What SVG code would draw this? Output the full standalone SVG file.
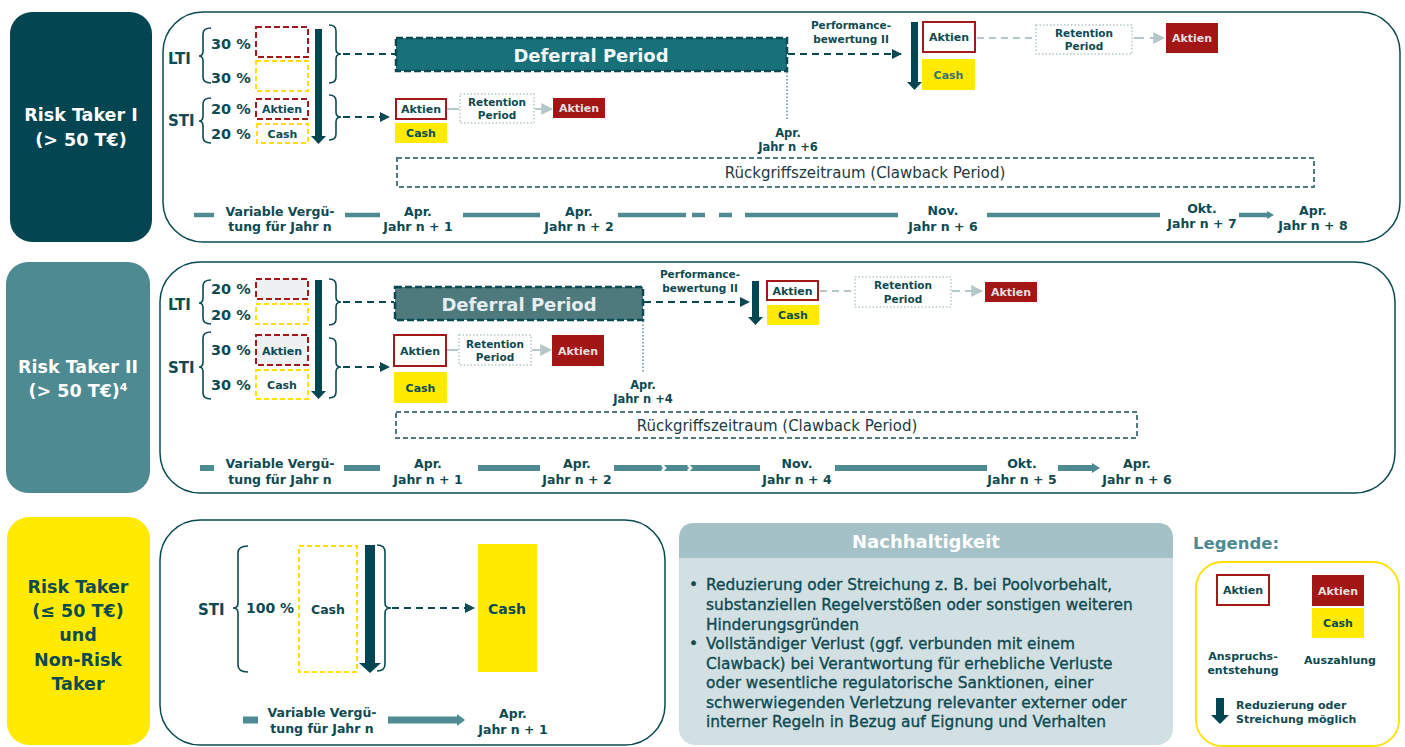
<svg xmlns="http://www.w3.org/2000/svg" width="1405" height="747" viewBox="0 0 1405 747">
<style>
text{font-family:"DejaVu Sans","Open Sans",sans-serif;font-weight:700;fill:#0d4a52}
.c{text-anchor:middle}
.w{fill:#ffffff}
.s10{font-size:10.5px}.s11{font-size:11px}.s12{font-size:11.5px}.s13{font-size:12.5px}.s14{font-size:14px}.s15{font-size:14.5px}.s16{font-size:15px}
.lab{font-size:17.5px}
.tl{font-size:12.5px}
.lg{fill:#e6dede}
.reg{font-weight:400;font-size:15px;fill:#1c3a3f}
.bul{font-weight:400;font-size:15.4px;fill:#0d4a52;stroke:#0d4a52;stroke-width:0.35}
.panel{fill:#fff;stroke:#0b4a52;stroke-width:1.5}
.rd{fill:none;stroke:#a31919;stroke-width:2;stroke-dasharray:6 3}
.rdg{fill:#eef0f1;stroke:#a31919;stroke-width:2;stroke-dasharray:6 3}
.yd{fill:none;stroke:#ffe000;stroke-width:2;stroke-dasharray:5 3}
.ro{fill:#fff;stroke:#a31919;stroke-width:2}
.rf{fill:#a31616}
.yf{fill:#ffea00}
.ret{fill:#fff;stroke:#b6c7ca;stroke-width:1.5;stroke-dasharray:1.5 2}
.brace{fill:none;stroke:#0b4a52;stroke-width:1.6}
.dk{fill:#034550}
.dash{fill:none;stroke:#0b4a52;stroke-width:2;stroke-dasharray:7 5}
.dot{fill:none;stroke:#5d8d93;stroke-width:1.5;stroke-dasharray:1.5 2}
.gl{fill:none;stroke:#b6c7ca;stroke-width:2}
.gld{fill:none;stroke:#b6c7ca;stroke-width:2;stroke-dasharray:7 5}
.tline{fill:none;stroke:#4e8a91}
.claw{fill:none;stroke:#4e7a80;stroke-width:2;stroke-dasharray:5 3}
</style>
<defs>
<marker id="ah" viewBox="0 0 10 10" refX="9" refY="5" markerWidth="10" markerHeight="12" markerUnits="userSpaceOnUse" orient="auto"><path d="M0,0 L10,5 L0,10 z" fill="#0b4a52"/></marker>
<marker id="ahg" viewBox="0 0 10 10" refX="9" refY="5" markerWidth="12" markerHeight="14" markerUnits="userSpaceOnUse" orient="auto"><path d="M0,0 L10,5 L0,10 z" fill="#b6c7ca"/></marker>
</defs>

<!-- Left category labels -->
<g id="rt1-label">
<rect x="10" y="12" width="142" height="230" rx="22" fill="#034550"/>
<text class="c w lab" x="81" y="121">Risk Taker I</text>
<text class="c w lab" x="81" y="146">(&gt; 50 T€)</text>
</g>
<g id="rt2-label">
<rect x="6" y="262" width="144" height="231" rx="22" fill="#4e8a91"/>
<text class="c w lab" x="78" y="373">Risk Taker II</text>
<text class="c w lab" x="78" y="397">(&gt; 50 T€)<tspan font-size="11px" dy="-6">4</tspan></text>
</g>
<g id="rt3-label">
<rect x="7" y="517" width="143" height="228" rx="22" fill="#ffea00"/>
<text class="c lab" x="78" y="593">Risk Taker</text>
<text class="c lab" x="78" y="617">(≤ 50 T€)</text>
<text class="c lab" x="78" y="641">und</text>
<text class="c lab" x="78" y="666">Non-Risk</text>
<text class="c lab" x="78" y="690">Taker</text>
</g>

<!-- Panels -->
<g id="panel1"><rect class="panel" x="163" y="12" width="1237" height="230" rx="40"/></g>
<g id="panel2"><rect class="panel" x="160" y="262" width="1235" height="231" rx="40"/></g>
<g id="panel3"><rect class="panel" x="160" y="520" width="505" height="225" rx="40"/></g>

<!-- ROW 1 -->
<g id="r1-split">
<text class="s16" x="168" y="64">LTI</text>
<text class="s16" x="168" y="126">STI</text>
<path class="brace" d="M211,28 Q203,28 203,34 L203,51 Q203,56 199,56 Q203,56 203,61 L203,77 Q203,83 211,83"/>
<path class="brace" d="M211,98 Q203,98 203,104 L203,116 Q203,121 199,121 Q203,121 203,126 L203,137 Q203,143 211,143"/>
<text class="s15" x="211" y="48.5">30 %</text>
<text class="s15" x="211" y="82.5">30 %</text>
<text class="s15" x="211" y="114">20 %</text>
<text class="s15" x="211" y="139">20 %</text>
<rect class="rd" x="256" y="27" width="52" height="30"/>
<rect class="yd" x="256" y="61" width="52" height="30"/>
<rect class="rd" x="256" y="99" width="52" height="20"/>
<text class="c s11" x="282" y="113">Aktien</text>
<rect class="yd" x="257" y="124" width="51" height="19"/>
<text class="c s11" x="282.5" y="137.5">Cash</text>
<rect class="dk" x="315" y="29" width="7" height="107"/>
<polygon class="dk" points="311,136 326,136 318.5,144"/>
<path class="brace" d="M329,25 Q336,25 336,31 L336,49 Q336,54 341,54 Q336,54 336,59 L336,77 Q336,83 329,83"/>
<path class="brace" d="M329,95 Q336,95 336,101 L336,112 Q336,117 341,117 Q336,117 336,122 L336,134 Q336,140 329,140"/>
</g>
<g id="r1-deferral">
<rect x="396" y="38" width="391" height="33" fill="#17707a" stroke="#0b4a52" stroke-width="2.5" stroke-dasharray="7 3"/>
<text class="c" x="591" y="61.5" font-size="18px" style="fill:#f2f6f6">Deferral Period</text>
</g>
<g id="r1-sti-pay">
<rect class="ro" x="396" y="99" width="50" height="20"/>
<text class="c s11" x="421" y="113">Aktien</text>
<rect class="yf" x="395" y="123" width="52" height="20"/>
<text class="c s11" x="421" y="137">Cash</text>
<rect class="ret" x="460" y="94" width="74" height="29"/>
<text class="c s10" x="497" y="106">Retention</text>
<text class="c s10" x="497" y="119">Period</text>
<rect class="rf" x="553" y="98" width="52" height="20"/>
<text class="c s11 lg" x="579" y="112">Aktien</text>
</g>
<g id="r1-apr6">
<text class="c s12" x="788" y="137">Apr.</text>
<text class="c s12" x="788" y="151">Jahr n +6</text>
</g>
<g id="r1-perf">
<text class="c s10" x="851" y="29">Performance-</text>
<text class="c s10" x="851" y="43">bewertung II</text>
<rect class="dk" x="911" y="22" width="7" height="60"/>
<polygon class="dk" points="907,82 922,82 914.5,90"/>
<rect class="ro" x="923" y="22" width="52" height="30"/>
<text class="c s11" x="949" y="41">Aktien</text>
<rect class="yf" x="922" y="59" width="53" height="31"/>
<text class="c s11" x="948.5" y="78.5" style="fill:#3d6f75">Cash</text>
<rect class="ret" x="1036" y="25" width="96" height="29"/>
<text class="c s10" x="1084" y="37">Retention</text>
<text class="c s10" x="1084" y="50">Period</text>
<rect class="rf" x="1166" y="23" width="52" height="30"/>
<text class="c s11 lg" x="1192" y="42">Aktien</text>
</g>
<g id="r1-clawback">
<rect class="claw" x="397" y="158" width="917" height="29"/>
<text class="c reg" x="865" y="178">Rückgriffszeitraum (Clawback Period)</text>
</g>
<g id="r1-timeline">
<g class="tline" stroke-width="4.5">
<line x1="194" y1="215" x2="214" y2="215"/>
<line x1="345" y1="215" x2="380" y2="215"/>
<line x1="463" y1="215" x2="540" y2="215"/>
<line x1="618" y1="215" x2="686" y2="215"/>
<line x1="692" y1="215" x2="705" y2="215"/>
<line x1="719" y1="215" x2="732" y2="215"/>
<line x1="745" y1="215" x2="898" y2="215"/>
<line x1="987" y1="215" x2="1160" y2="215"/>
<line x1="1239" y1="215" x2="1268" y2="215"/>
</g>
<polygon points="1267,211 1274,215 1267,219" fill="#4e8a91"/>
<text class="c tl" x="280" y="215.5">Variable Vergü-</text>
<text class="c tl" x="280" y="231">tung für Jahr n</text>
<text class="c tl" x="418" y="215.5">Apr.</text>
<text class="c tl" x="418" y="231">Jahr n + 1</text>
<text class="c tl" x="579" y="215.5">Apr.</text>
<text class="c tl" x="579" y="231">Jahr n + 2</text>
<text class="c tl" x="943" y="215">Nov.</text>
<text class="c tl" x="943" y="231">Jahr n + 6</text>
<text class="c tl" x="1202" y="213">Okt.</text>
<text class="c tl" x="1202" y="228">Jahr n + 7</text>
<text class="c tl" x="1313" y="215">Apr.</text>
<text class="c tl" x="1313" y="230">Jahr n + 8</text>
</g>

<!-- ROW 2 -->
<g id="r2-split">
<text class="s16" x="168" y="310">LTI</text>
<text class="s16" x="168" y="373">STI</text>
<path class="brace" d="M211,280 Q203,280 203,286 L203,298 Q203,303 199,303 Q203,303 203,308 L203,318 Q203,324 211,324"/>
<path class="brace" d="M211,332 Q203,332 203,338 L203,362 Q203,367 199,367 Q203,367 203,372 L203,393 Q203,399 211,399"/>
<text class="s15" x="211" y="294">20 %</text>
<text class="s15" x="211" y="320">20 %</text>
<text class="s15" x="211" y="355">30 %</text>
<text class="s15" x="211" y="390">30 %</text>
<rect class="rdg" x="256" y="279" width="52" height="20"/>
<rect class="yd" x="256" y="304" width="52" height="20"/>
<rect class="rdg" x="256" y="335" width="52" height="30"/>
<text class="c s11" x="282" y="354.5">Aktien</text>
<rect class="yd" x="256" y="370" width="52" height="29"/>
<text class="c s11" x="282" y="389">Cash</text>
<rect class="dk" x="315" y="280" width="7" height="111"/>
<polygon class="dk" points="311,391 326,391 318.5,399"/>
<path class="brace" d="M329,279 Q336,279 336,285 L336,297 Q336,302 341,302 Q336,302 336,307 L336,319 Q336,325 329,325"/>
<path class="brace" d="M329,338 Q336,338 336,344 L336,362 Q336,367 341,367 Q336,367 336,372 L336,392 Q336,398 329,398"/>
</g>
<g id="r2-deferral">
<rect x="395" y="287" width="248" height="33" fill="#4e7a7e" stroke="#0b4a52" stroke-width="2.5" stroke-dasharray="7 3"/>
<text class="c" x="519" y="310.5" font-size="18px" style="fill:#e6eced">Deferral Period</text>
</g>
<g id="r2-sti-pay">
<rect class="ro" x="394" y="335" width="52" height="31"/>
<text class="c s11" x="420" y="354.5">Aktien</text>
<rect class="yf" x="394" y="372" width="53" height="31"/>
<text class="c s11" x="420.5" y="391.5">Cash</text>
<rect class="ret" x="459" y="335" width="72" height="30"/>
<text class="c s10" x="495" y="347.5">Retention</text>
<text class="c s10" x="495" y="361">Period</text>
<rect class="rf" x="552" y="335" width="52" height="31"/>
<text class="c s11 lg" x="578" y="354.5">Aktien</text>
</g>
<g id="r2-apr4">
<text class="c s12" x="643" y="389">Apr.</text>
<text class="c s12" x="643" y="403">Jahr n +4</text>
</g>
<g id="r2-perf">
<text class="c s10" x="700" y="278">Performance-</text>
<text class="c s10" x="700" y="292">bewertung II</text>
<rect class="dk" x="752" y="281" width="7" height="36"/>
<polygon class="dk" points="748,317 763,317 755.5,325"/>
<rect class="ro" x="767" y="281" width="51" height="19"/>
<text class="c s11" x="792.5" y="294.5">Aktien</text>
<rect class="yf" x="767" y="305" width="52" height="20"/>
<text class="c s11" x="793" y="319">Cash</text>
<rect class="ret" x="855" y="277" width="96" height="30"/>
<text class="c s10" x="903" y="289">Retention</text>
<text class="c s10" x="903" y="303">Period</text>
<rect class="rf" x="985" y="282" width="52" height="20"/>
<text class="c s11 lg" x="1011" y="296">Aktien</text>
</g>
<g id="r2-clawback">
<rect class="claw" x="396" y="412" width="741" height="26"/>
<text class="c reg" x="777" y="430.5">Rückgriffszeitraum (Clawback Period)</text>
</g>
<g id="r2-timeline">
<g class="tline" stroke-width="6">
<line x1="200" y1="468" x2="214" y2="468"/>
<line x1="344" y1="468" x2="380" y2="468"/>
<line x1="478" y1="468" x2="540" y2="468"/>
<line x1="614" y1="468" x2="760" y2="468"/>
<line x1="835" y1="468" x2="987" y2="468"/>
<line x1="1058" y1="468" x2="1093" y2="468"/>
</g>
<path d="M662,465 L665,468 L662,471 M688,465 L691,468 L688,471" fill="none" stroke="#fff" stroke-width="2.5"/>
<polygon points="1092,463 1100,468 1092,473" fill="#4e8a91"/>
<text class="c tl" x="280" y="468">Variable Vergü-</text>
<text class="c tl" x="280" y="484">tung für Jahr n</text>
<text class="c tl" x="428" y="468">Apr.</text>
<text class="c tl" x="428" y="484">Jahr  n + 1</text>
<text class="c tl" x="577" y="468">Apr.</text>
<text class="c tl" x="577" y="484">Jahr n + 2</text>
<text class="c tl" x="797" y="468">Nov.</text>
<text class="c tl" x="797" y="484">Jahr n + 4</text>
<text class="c tl" x="1022" y="468">Okt.</text>
<text class="c tl" x="1022" y="484">Jahr n + 5</text>
<text class="c tl" x="1137" y="468">Apr.</text>
<text class="c tl" x="1137" y="484">Jahr n + 6</text>
</g>

<!-- ROW 3 -->
<g id="r3-split">
<text class="s16" x="198" y="615">STI</text>
<path class="brace" d="M248,546 Q238,546 238,553 L238,603 Q238,608 233,608 Q238,608 238,613 L238,665 Q238,672 248,672"/>
<text class="s14" x="246" y="613">100 %</text>
<rect class="yd" x="299" y="546" width="58" height="126"/>
<text class="c s13" x="328" y="614">Cash</text>
<rect class="dk" x="365" y="545" width="10" height="118"/>
<polygon class="dk" points="359,663 381,663 370,673"/>
<path class="brace" d="M377,545 Q385,545 385,552 L385,603 Q385,608 391,608 Q385,608 385,613 L385,664 Q385,671 377,671"/>
</g>
<g id="r3-cash">
<rect class="yf" x="478" y="544" width="59" height="128"/>
<text class="c s14" x="507" y="614">Cash</text>
</g>
<g id="r3-timeline">
<line class="tline" stroke-width="7" x1="243" y1="720" x2="258" y2="720"/>
<line class="tline" stroke-width="7" x1="388" y1="720" x2="458" y2="720"/>
<polygon points="457,714 465,720 457,726" fill="#4e8a91"/>
<text class="c tl" x="322" y="717">Variable Vergü-</text>
<text class="c tl" x="322" y="733">tung für Jahr n</text>
<text class="c tl" x="513" y="718">Apr.</text>
<text class="c tl" x="513" y="734">Jahr n + 1</text>
</g>

<!-- Nachhaltigkeit -->
<g id="nachhaltigkeit">
<rect x="679" y="523" width="494" height="222" rx="16" fill="#d3e0e3"/>
<path d="M695,523 H1157 Q1173,523 1173,539 V558 H679 V539 Q679,523 695,523 Z" fill="#a3c1c6"/>
<text class="c w" x="926" y="548" font-size="18px">Nachhaltigkeit</text>
<text class="bul" x="689" y="589.5">•</text>
<text class="bul" x="706" y="589.5">Reduzierung oder Streichung z. B. bei Poolvorbehalt,</text>
<text class="bul" x="706" y="609.5">substanziellen Regelverstößen oder sonstigen weiteren</text>
<text class="bul" x="706" y="629.5">Hinderungsgründen</text>
<text class="bul" x="689" y="648.5">•</text>
<text class="bul" x="706" y="648.5">Vollständiger Verlust (ggf. verbunden mit einem</text>
<text class="bul" x="706" y="668.5">Clawback) bei Verantwortung für erhebliche Verluste</text>
<text class="bul" x="706" y="687.5">oder wesentliche regulatorische Sanktionen, einer</text>
<text class="bul" x="706" y="707.5">schwerwiegenden Verletzung relevanter externer oder</text>
<text class="bul" x="706" y="726.5">interner Regeln in Bezug auf Eignung und Verhalten</text>
</g>

<!-- Legend -->
<g id="legend">
<text x="1193" y="549" font-size="16.5px" style="fill:#4e8a91">Legende:</text>
<rect x="1196" y="562" width="203" height="184" rx="26" fill="#fff" stroke="#ffe000" stroke-width="1.8"/>
<rect class="ro" x="1217" y="575" width="52" height="30"/>
<text class="c s11" x="1243" y="594">Aktien</text>
<rect class="rf" x="1312" y="575" width="52" height="31"/>
<text class="c s11 lg" x="1338" y="594.5">Aktien</text>
<rect class="yf" x="1312" y="608" width="52" height="30"/>
<text class="c s11" x="1338" y="627">Cash</text>
<text class="c s11" x="1243" y="660">Anspruchs-</text>
<text class="c s11" x="1243" y="674">entstehung</text>
<text class="c s11" x="1340" y="664">Auszahlung</text>
<rect class="dk" x="1216" y="698" width="8" height="17"/>
<polygon class="dk" points="1211,715 1229,715 1220,724"/>
<text class="s11" x="1236" y="709">Reduzierung oder</text>
<text class="s11" x="1236" y="723">Streichung möglich</text>
</g>

<!-- Connectors -->
<g id="connectors">
<line class="dash" x1="343" y1="54" x2="395" y2="54"/>
<line class="dash" x1="343" y1="117" x2="389" y2="117" marker-end="url(#ah)"/>
<line class="dash" x1="788" y1="54" x2="901" y2="54" marker-end="url(#ah)"/>
<line class="dot" x1="787" y1="72" x2="787" y2="121"/>
<line class="gl" x1="447" y1="109" x2="459" y2="109"/>
<line class="gl" x1="535" y1="109" x2="552" y2="109" marker-end="url(#ahg)"/>
<line class="gld" x1="977" y1="38" x2="1035" y2="38"/>
<line class="gl" x1="1134" y1="38" x2="1164" y2="38" stroke-dasharray="10 6" marker-end="url(#ahg)"/>
<line class="dash" x1="343" y1="302" x2="394" y2="302"/>
<line class="dash" x1="343" y1="367" x2="389" y2="367" marker-end="url(#ah)"/>
<line class="dash" x1="644" y1="302" x2="749" y2="302" marker-end="url(#ah)"/>
<line class="dot" x1="643" y1="321" x2="643" y2="373"/>
<line class="gl" x1="447" y1="350" x2="458" y2="350"/>
<line class="gl" x1="532" y1="350" x2="551" y2="350" marker-end="url(#ahg)"/>
<line class="gld" x1="820" y1="291" x2="854" y2="291"/>
<line class="gl" x1="952" y1="291" x2="982" y2="291" stroke-dasharray="8 5" marker-end="url(#ahg)"/>
<line class="dash" x1="392" y1="608" x2="474" y2="608" stroke-dasharray="5 4" marker-end="url(#ah)"/>
</g>
</svg>
